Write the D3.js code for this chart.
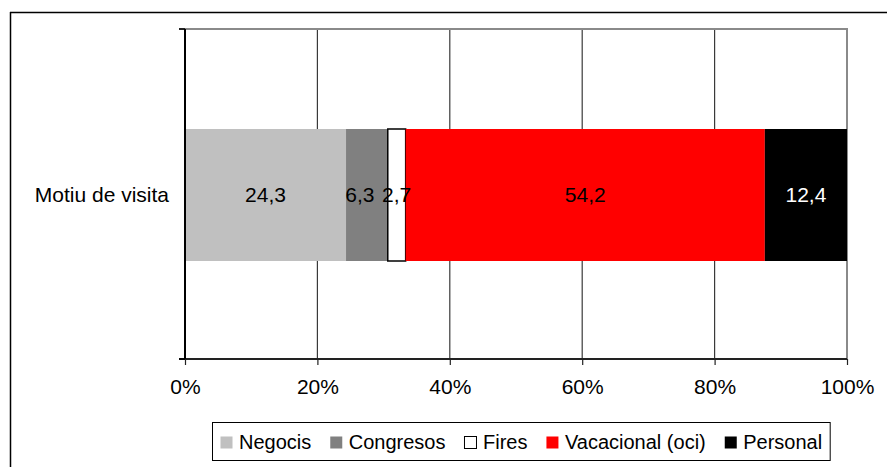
<!DOCTYPE html>
<html>
<head>
<meta charset="utf-8">
<script src="https://cdn.jsdelivr.net/npm/d3@7"></script>
<style>
  body { margin: 0; background: #fff; }
  svg { display: block; font-family: "Liberation Sans", Arial, sans-serif; }
</style>
</head>
<body>
<div id="chart"></div>
<script>
// data
var categories = ["Motiu de visita"];
var seriesNames = ["Negocis", "Congresos", "Fires", "Vacacional (oci)", "Personal"];
var seriesValues = [24.3, 6.3, 2.7, 54.2, 12.4];
var seriesColors = ["#c0c0c0", "#808080", "#ffffff", "#ff0000", "#000000"];
var labelColors = ["#000", "#000", "#000", "#000", "#fff"];
var xTicks = [0, 20, 40, 60, 80, 100];

var W = 887, H = 467;
var plot = { left: 185, right: 847, top: 29, bottom: 359 };

var svg = d3.select("#chart").append("svg")
    .attr("width", W)
    .attr("height", H);

// outer frame (only top and left visible)
svg.append("line").attr("x1", 10.5).attr("y1", 12).attr("x2", 10.5).attr("y2", H)
    .attr("stroke", "#000").attr("stroke-width", 1.5);
svg.append("line").attr("x1", 10).attr("y1", 12.5).attr("x2", W).attr("y2", 12.5)
    .attr("stroke", "#000").attr("stroke-width", 1.5);

var x = d3.scaleLinear().domain([0, 100]).range([plot.left, plot.right]);
var y = d3.scaleBand().domain(categories).range([plot.top + 1, plot.bottom + 1])
    .paddingInner(0.6).paddingOuter(0.3);

// gridlines
svg.append("g")
    .selectAll("line")
    .data(xTicks.slice(1, -1))
    .enter().append("line")
    .attr("x1", function (d) { return x(d); })
    .attr("x2", function (d) { return x(d); })
    .attr("y1", plot.top)
    .attr("y2", plot.bottom)
    .attr("stroke", "#3a3a3a")
    .attr("stroke-width", 1.2);

// plot area top and right border
svg.append("path")
    .attr("d", "M" + (plot.left - 6) + "," + plot.top + "H" + plot.right + "V" + plot.bottom)
    .attr("fill", "none")
    .attr("stroke", "#8a8a8a")
    .attr("stroke-width", 2);

// stacked bars, normalized to 100%
var total = d3.sum(seriesValues);
var cum = 0;
var segs = seriesValues.map(function (v, i) {
    var s = { name: seriesNames[i], value: v, x0: cum / total * 100, x1: (cum + v) / total * 100, i: i };
    cum += v;
    return s;
});

categories.forEach(function (cat) {
    var g = svg.append("g");
    g.selectAll("rect")
        .data(segs)
        .enter().append("rect")
        .attr("x", function (d) { return x(d.x0); })
        .attr("width", function (d) { return x(d.x1) - x(d.x0); })
        .attr("y", y(cat))
        .attr("height", y.bandwidth())
        .attr("fill", function (d) { return seriesColors[d.i]; })
        .attr("stroke", function (d) { return d.i == 2 ? "#000" : "none"; })
        .attr("stroke-width", 1.5);

    // small label nudge so the two narrow segments' labels don't touch
    g.selectAll("text")
        .data(segs)
        .enter().append("text")
        .attr("x", function (d) { return (x(d.x0) + x(d.x1)) / 2; })
        .attr("dx", function (d) { return d.i == 1 ? -7 : 0; })
        .attr("y", y(cat) + y.bandwidth() / 2)
        .attr("dy", "0.35em")
        .attr("text-anchor", "middle")
        .attr("font-size", 21)
        .attr("fill", function (d) { return labelColors[d.i]; })
        .text(function (d) { return d.value.toFixed(1).replace(".", ","); });
});

// x axis
var xAxis = svg.append("g")
    .attr("transform", "translate(0," + plot.bottom + ")")
    .call(d3.axisBottom(x).tickValues(xTicks).tickSize(6).tickPadding(14)
        .tickFormat(function (d) { return d + "%"; }));
xAxis.select(".domain").attr("stroke", "#222").attr("stroke-width", 2)
    .attr("d", "M" + (plot.left - 6) + ",0H" + plot.right);
xAxis.selectAll(".tick line").attr("stroke", "#222").attr("stroke-width", 1.2);
xAxis.selectAll(".tick text").attr("font-size", 21).attr("fill", "#000")
    .attr("font-family", "Liberation Sans, Arial, sans-serif");

// y axis
var yAxis = svg.append("g")
    .attr("transform", "translate(" + plot.left + ",0)")
    .call(d3.axisLeft(y).tickSize(0).tickPadding(16));
yAxis.select(".domain").attr("stroke", "#000").attr("stroke-width", 2)
    .attr("d", "M0," + plot.top + "V" + plot.bottom);
yAxis.selectAll(".tick text").attr("font-size", 21).attr("fill", "#000")
    .attr("font-family", "Liberation Sans, Arial, sans-serif");
yAxis.selectAll(".edge")
    .data([plot.top, plot.bottom])
    .enter().append("line")
    .attr("class", "edge")
    .attr("x1", -6).attr("x2", 0)
    .attr("y1", function (d) { return d; })
    .attr("y2", function (d) { return d; })
    .attr("stroke", "#000").attr("stroke-width", 1.5);

// legend
var legend = svg.append("g");
var legBox = legend.append("rect")
    .attr("x", 212.5).attr("y", 422.5)
    .attr("height", 38)
    .attr("fill", "#fff")
    .attr("stroke", "#000").attr("stroke-width", 1);
var lx = 220;
seriesNames.forEach(function (name, i) {
    legend.append("rect")
        .attr("x", lx + 0.5).attr("y", 436.5)
        .attr("width", 12).attr("height", 12)
        .attr("fill", seriesColors[i])
        .attr("stroke", i == 2 ? "#000" : "none");
    var t = legend.append("text")
        .attr("x", lx + 19)
        .attr("y", 442)
        .attr("dy", "0.35em")
        .attr("font-size", 20)
        .text(name);
    lx += 19 + t.node().getComputedTextLength() + 18.5;
});
legBox.attr("width", lx - 18.5 + 8 - 212.5);
</script>
</body>
</html>
